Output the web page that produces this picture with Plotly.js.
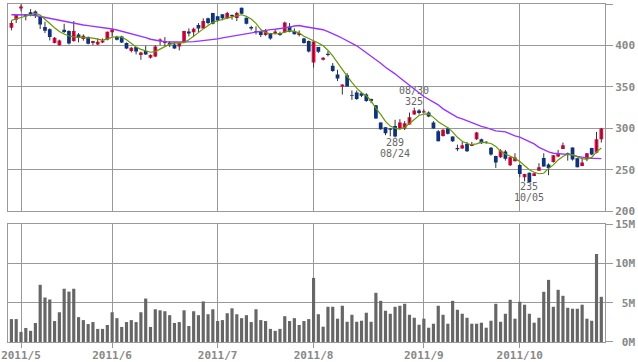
<!DOCTYPE html>
<html><head><meta charset="utf-8">
<script src="https://cdn.plot.ly/plotly-3.0.1.min.js"></script>
<style>html,body{margin:0;padding:0;background:#fff;}#chart{width:638px;height:362px;}</style>
</head><body><div id="chart"></div>
<script>
const dates = [
'2011-04-27','2011-04-28',
'2011-05-02','2011-05-06','2011-05-09','2011-05-10','2011-05-11','2011-05-12','2011-05-13','2011-05-16','2011-05-17','2011-05-18','2011-05-19','2011-05-20','2011-05-23','2011-05-24','2011-05-25','2011-05-26','2011-05-27','2011-05-30','2011-05-31',
'2011-06-01','2011-06-02','2011-06-03','2011-06-06','2011-06-07','2011-06-08','2011-06-09','2011-06-10','2011-06-13','2011-06-14','2011-06-15','2011-06-16','2011-06-17','2011-06-20','2011-06-21','2011-06-22','2011-06-23','2011-06-24','2011-06-27','2011-06-28','2011-06-29','2011-06-30',
'2011-07-01','2011-07-04','2011-07-05','2011-07-06','2011-07-07','2011-07-08','2011-07-11','2011-07-12','2011-07-13','2011-07-14','2011-07-15','2011-07-19','2011-07-20','2011-07-21','2011-07-22','2011-07-25','2011-07-26','2011-07-27','2011-07-28','2011-07-29',
'2011-08-01','2011-08-02','2011-08-03','2011-08-04','2011-08-05','2011-08-08','2011-08-09','2011-08-10','2011-08-11','2011-08-12','2011-08-15','2011-08-16','2011-08-17','2011-08-18','2011-08-19','2011-08-22','2011-08-23','2011-08-24','2011-08-25','2011-08-26','2011-08-29','2011-08-30','2011-08-31',
'2011-09-01','2011-09-02','2011-09-05','2011-09-06','2011-09-07','2011-09-08','2011-09-09','2011-09-12','2011-09-13','2011-09-14','2011-09-15','2011-09-16','2011-09-20','2011-09-21','2011-09-22','2011-09-26','2011-09-27','2011-09-28','2011-09-29','2011-09-30',
'2011-10-03','2011-10-04','2011-10-05','2011-10-06','2011-10-07','2011-10-11','2011-10-12','2011-10-13','2011-10-14','2011-10-17','2011-10-18','2011-10-19','2011-10-20','2011-10-21','2011-10-24','2011-10-25','2011-10-26','2011-10-27'
];
const open = [421.4,431.0,444.7,437.5,439.9,441.1,434.3,422.2,419.4,402.9,400.4,419.0,417.4,405.3,413.3,407.7,410.1,402.9,401.2,403.7,406.9,
415.8,410.1,410.9,402.9,393.2,398.0,388.4,393.2,385.1,386.8,405.3,402.9,403.7,401.2,398.8,403.7,416.9,415.8,424.6,420.6,432.7,439.1,
435.1,437.5,432.7,436.7,433.1,445.5,433.5,422.2,416.9,417.4,412.5,415.0,414.5,415.0,415.8,423.0,417.4,412.5,408.5,405.3,
379.5,398.0,382.7,390.0,375.5,365.0,350.5,364.2,340.1,343.2,342.5,340.8,335.3,328.0,307.0,301.4,299.8,303.0,299.8,299.8,304.6,316.7,321.5,
319.1,319.1,307.0,296.6,290.9,299.8,290.1,276.4,275.6,281.3,278.8,287.0,287.0,283.5,276.5,266.8,265.2,272.0,255.6,260.4,
255.9,241.1,246.6,242.6,249.0,264.4,256.3,259.5,266.0,275.2,270.0,276.8,264.0,254.7,263.0,276.4,270.5,287.0];
const high = [430.0,437.0,449.6,437.8,443.9,442.3,434.6,428.6,420.6,410.1,406.9,426.2,418.2,429.4,415.0,413.3,410.9,405.5,408.5,408.5,416.8,
419.8,411.7,411.7,403.7,398.0,398.3,392.4,399.6,389.2,400.4,408.5,410.1,405.3,404.5,402.9,417.6,420.6,421.4,427.0,432.7,433.5,439.3,
435.3,437.7,440.7,437.5,440.7,445.7,433.7,423.8,423.0,417.6,419.8,415.2,419.0,416.6,428.6,427.0,420.6,418.2,409.3,406.0,
405.0,398.2,386.0,393.2,378.7,370.7,352.9,366.7,345.7,345.7,344.1,342.5,336.0,328.2,307.2,301.6,300.2,310.3,311.1,308.7,319.1,325.0,323.2,
323.0,320.5,308.7,298.1,299.0,301.4,290.3,280.4,283.7,283.7,283.7,295.8,287.7,284.5,277.5,267.0,274.9,274.0,266.0,270.0,
257.1,245.2,246.8,246.6,258.0,270.0,257.9,267.8,274.0,282.9,270.8,277.0,264.4,264.4,270.2,276.6,295.8,300.6];
const low = [418.2,427.0,441.1,430.2,435.1,433.1,419.8,415.0,406.1,402.5,400.0,415.0,401.2,404.5,403.7,405.7,401.2,400.4,400.4,402.9,406.1,
410.9,406.1,402.9,395.6,391.6,389.2,382.7,388.9,384.3,386.0,400.4,399.6,398.0,396.0,394.0,402.9,410.9,410.1,415.8,420.4,425.4,425.4,
428.6,430.2,431.8,431.0,429.4,437.5,425.4,418.2,413.3,410.1,411.7,406.9,413.3,411.7,415.0,415.8,413.3,410.9,402.1,391.5,
373.4,390.8,381.9,386.8,368.2,357.0,340.8,350.3,334.4,334.4,337.7,332.0,330.4,311.6,298.2,291.8,290.5,289.0,299.0,298.0,304.4,316.5,316.7,
318.9,313.5,299.8,284.3,290.1,292.5,283.7,272.5,275.4,271.6,278.6,286.1,281.3,281.5,267.0,252.3,264.4,261.1,254.7,260.2,
241.1,236.0,235.0,242.4,248.8,253.7,243.5,258.7,265.2,275.0,261.1,261.1,253.0,254.5,260.4,267.6,270.0,282.9];
const close = [427.0,436.7,447.1,435.1,437.5,437.1,425.4,417.8,410.1,409.3,406.1,416.2,402.5,417.4,408.9,411.7,402.1,405.3,404.5,406.1,416.6,
419.0,406.9,403.7,396.4,397.2,392.8,391.6,389.2,388.4,398.8,407.3,405.3,401.2,396.4,402.9,417.4,414.5,420.2,420.6,429.4,427.0,426.2,
430.2,432.7,439.1,435.1,439.1,438.3,426.2,420.6,416.5,412.5,417.4,408.5,416.9,412.5,427.8,416.6,413.5,415.0,402.9,392.8,
404.8,392.4,385.1,388.4,369.1,360.1,352.9,350.5,339.3,335.3,339.3,332.9,332.9,311.8,299.0,294.2,298.4,290.1,307.0,306.3,313.5,321.5,318.4,
320.8,314.3,299.8,284.5,298.2,293.4,284.5,274.9,279.7,272.5,281.3,294.9,282.1,282.9,268.5,258.7,273.2,263.5,265.2,265.0,
245.0,245.0,235.4,245.9,253.1,253.9,252.3,267.6,270.0,279.7,268.0,262.5,253.1,258.7,270.0,268.4,287.0,299.8];
const volumeM = [2.92,2.92,1.29,1.79,1.42,2.42,7.29,5.67,5.42,2.67,3.79,6.79,6.42,6.79,3.17,2.79,2.29,2.54,1.67,1.67,2.17,
3.79,3.04,1.92,2.54,2.79,2.54,3.79,5.54,1.92,4.17,4.04,3.92,3.42,2.42,2.54,4.04,2.04,3.92,3.42,5.17,3.54,4.17,
2.67,2.79,3.67,4.29,3.54,3.04,3.42,2.54,4.17,2.79,2.67,1.67,1.42,1.67,3.29,2.67,3.04,2.17,2.67,2.92,
8.17,3.54,1.95,4.49,4.49,2.97,4.62,2.58,3.47,2.58,2.71,3.73,2.58,6.27,5.25,3.98,3.60,4.49,4.62,4.87,3.47,3.09,2.20,
2.97,1.82,2.33,4.62,3.47,2.33,5.25,4.11,3.60,3.09,2.33,2.33,2.46,1.82,2.71,4.87,2.58,3.60,5.38,2.97,
5.13,4.75,3.60,2.46,3.09,6.40,7.92,4.49,6.65,5.89,4.36,4.24,4.24,4.75,2.97,2.71,11.23,5.76];
const maShort = [430.2,431.8,433.1,434.7,437.1,438.8,436.8,431.0,426.4,421.4,416.8,413.9,411.4,410.3,409.8,409.7,409.7,408.9,407.6,406.4,407.7,
410.0,410.5,409.9,407.0,402.4,398.1,395.3,393.7,391.8,392.6,395.7,398.8,401.6,402.8,402.9,403.5,406.9,410.8,415.5,420.0,424.5,427.9,
429.8,431.0,433.0,434.5,436.1,437.0,435.1,431.8,426.7,419.1,415.6,414.1,414.1,414.1,416.1,417.8,416.9,415.1,411.1,408.6,
405.9,403.0,399.6,394.3,387.5,378.9,370.7,363.0,355.6,348.6,343.0,339.3,333.2,324.2,316.9,308.5,302.8,300.2,299.0,301.2,305.8,311.1,315.5,
317.3,317.5,313.3,308.1,304.3,300.9,295.8,289.2,284.5,281.8,280.3,281.3,283.3,282.9,281.8,278.3,272.2,269.2,266.8,263.8,
260.0,254.7,250.2,247.1,245.3,245.9,251.7,256.0,262.0,266.1,269.0,268.1,265.6,263.5,262.6,265.0,271.6,276.4];
const maLong = [437.1,437.1,437.0,437.0,436.8,436.1,434.9,433.6,432.6,431.5,430.6,429.3,428.1,426.9,425.7,424.6,423.9,423.2,422.6,421.7,420.8,
419.9,418.6,417.1,415.8,414.5,412.9,411.4,409.5,407.5,406.2,405.3,404.6,404.1,404.1,404.1,404.1,404.1,404.6,405.2,405.7,406.4,407.2,
407.9,409.1,410.1,411.5,412.7,413.8,414.9,415.9,417.0,418.0,418.4,419.1,419.6,420.2,421.0,422.1,423.4,424.0,422.9,422.1,
421.3,420.2,419.0,416.6,414.4,411.7,408.7,405.7,402.7,399.6,395.4,391.2,387.6,382.7,378.5,373.7,370.0,365.8,361.0,356.2,351.9,347.7,342.9,
338.4,335.0,332.0,328.4,323.6,319.9,316.3,313.3,311.5,309.1,307.5,304.8,302.4,301.0,298.8,297.0,296.4,295.8,293.4,290.9,
289.4,286.7,284.3,281.3,277.1,274.0,271.6,270.0,269.7,269.2,269.2,268.0,266.2,265.0,264.4,264.0,263.8,263.5];
const monthTickDates = ['2011-05-02','2011-06-01','2011-07-01','2011-08-01','2011-09-01','2011-10-03'];
const monthTickLabels = ['2011/5','2011/6','2011/7','2011/8','2011/9','2011/10'];
const priceTicks = [200,250,300,350,400,450];
const volTicks = [0,5,10,15];
const volTickLabels = ['\u00a00M','\u00a05M','10M','15M'];
const markIdx = [84,80,108];
const markValue = ['325','289','235'];
const markDate = ['08/30','08/24','10/05'];

const UP = '#ff0040', DOWN = '#003399', GRID = '#999999';
const wx = [], wy = [], bodyBase = [], bodyLen = [], bodyCol = [];
for (let i = 0; i < dates.length; i++) {
  wx.push(dates[i], dates[i], null);
  wy.push(low[i], high[i], null);
  bodyBase.push(Math.min(open[i], close[i]));
  bodyLen.push(Math.max(Math.abs(close[i] - open[i]), 0.9));
  bodyCol.push(close[i] >= open[i] ? UP : DOWN);
}
const traces = [
  {type:'scatter', mode:'lines', x:wx, y:wy, xaxis:'x', yaxis:'y', line:{color:'#333333', width:1}, connectgaps:false, hoverinfo:'skip'},
  {type:'bar', x:dates, y:bodyLen, base:bodyBase, xaxis:'x', yaxis:'y', width:0.78, marker:{color:bodyCol, line:{width:0}}},
  {type:'scatter', mode:'lines', x:dates, y:maLong, xaxis:'x', yaxis:'y', line:{color:'#9933ff', width:1.4}},
  {type:'scatter', mode:'lines', x:dates, y:maShort, xaxis:'x', yaxis:'y', line:{color:'#669900', width:1.2}},
  {type:'bar', x:dates, y:volumeM, xaxis:'x2', yaxis:'y2', width:0.66, marker:{color:'#666666', line:{width:0}}}
];
const annFont = {family:'DejaVu Sans Mono', size:10, color:'#666666'};
const annotations = [];
annotations.push({x:dates[markIdx[0]], y:high[markIdx[0]], xref:'x', yref:'y', text:markValue[0], showarrow:false, yanchor:'bottom', yshift:-1, font:annFont});
annotations.push({x:dates[markIdx[0]], y:high[markIdx[0]], xref:'x', yref:'y', text:markDate[0], showarrow:false, yanchor:'bottom', yshift:10, font:annFont});
for (let k = 1; k < 3; k++) {
  annotations.push({x:dates[markIdx[k]], y:low[markIdx[k]], xref:'x', yref:'y', text:markValue[k], showarrow:false, yanchor:'top', yshift:3, font:annFont});
  annotations.push({x:dates[markIdx[k]], y:low[markIdx[k]], xref:'x', yref:'y', text:markDate[k], showarrow:false, yanchor:'top', yshift:-8, font:annFont});
}
const tickFont = {family:'DejaVu Sans Mono', size:11, color:'#888888', weight:700};
const xr = [-0.71, 123.77];
const layout = {
  width:638, height:362, margin:{l:8, r:33, t:4, b:20},
  paper_bgcolor:'#ffffff', plot_bgcolor:'#ffffff', showlegend:false, barmode:'overlay',
  xaxis:{type:'category', range:xr, domain:[0,1], anchor:'y', tickmode:'array', tickvals:monthTickDates, ticktext:monthTickLabels,
    showticklabels:false, ticks:'', showgrid:true, gridcolor:GRID, gridwidth:1, showline:true, mirror:true, linecolor:GRID, linewidth:1, zeroline:false, fixedrange:true},
  yaxis:{domain:[0.3867,1], range:[200,450], side:'right', tickmode:'array', tickvals:priceTicks, ticks:'outside', ticklen:7, tickcolor:GRID,
    tickfont:tickFont, showgrid:true, gridcolor:GRID, showline:true, mirror:true, linecolor:GRID, linewidth:1, zeroline:false, fixedrange:true},
  xaxis2:{type:'category', matches:'x', range:xr, anchor:'y2', tickmode:'array', tickvals:monthTickDates, ticktext:monthTickLabels,
    ticks:'outside', ticklen:5, ticklabelstandoff:-2, tickcolor:GRID, tickfont:tickFont, showgrid:true, gridcolor:GRID, showline:true, mirror:true, linecolor:GRID, linewidth:1, zeroline:false, fixedrange:true},
  yaxis2:{domain:[0,0.3482], range:[0,15], side:'right', anchor:'x2', tickmode:'array', tickvals:volTicks, ticktext:volTickLabels, ticks:'outside', ticklen:7, tickcolor:GRID,
    tickfont:tickFont, showgrid:true, gridcolor:GRID, showline:true, mirror:true, linecolor:GRID, linewidth:1, zeroline:false, fixedrange:true},
  annotations:annotations
};
Plotly.newPlot('chart', traces, layout, {staticPlot:true, displayModeBar:false});
</script></body></html>
